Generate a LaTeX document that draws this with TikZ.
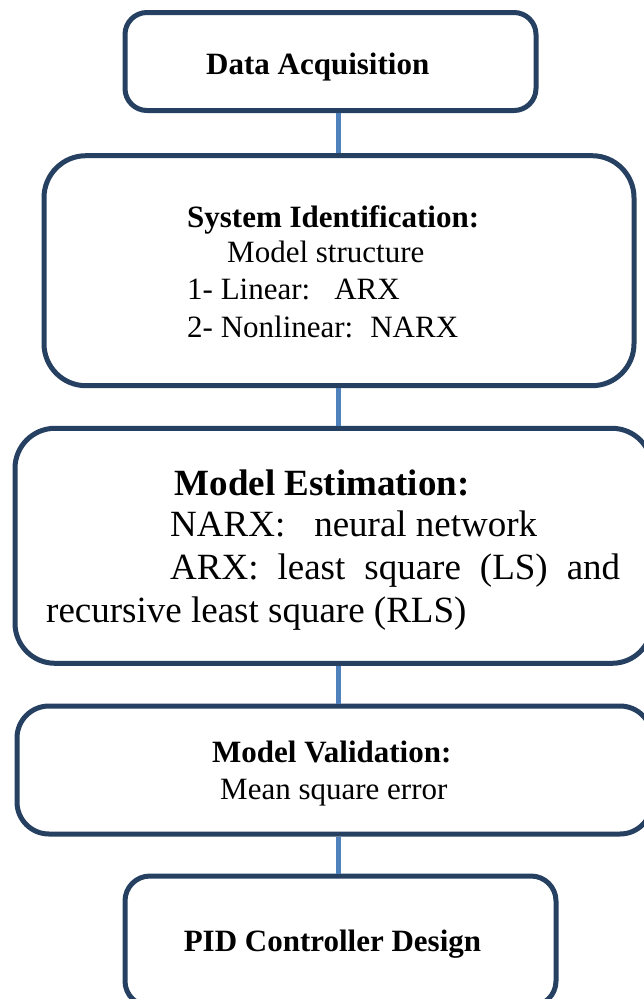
\documentclass[tikz,border=0pt]{standalone}
\usepackage{fontspec}
\setmainfont{Liberation Serif}
\definecolor{boxline}{RGB}{38,64,97}
\definecolor{connblue}{RGB}{79,129,189}
\begin{document}
\begin{tikzpicture}[x=1pt,y=-1pt,
  box/.style={draw=boxline, line width=5pt, rounded corners=#1, inner sep=0pt, fill=white},
  box/.default=22pt,
  txt/.style={anchor=base west, inner sep=0pt, font=\fontsize{31}{37}\selectfont},
  btxt/.style={txt, font=\fontsize{31}{37}\selectfont\bfseries},
  bigtxt/.style={anchor=base west, inner sep=0pt, font=\fontsize{37}{43}\selectfont},
  bigbtxt/.style={bigtxt, font=\fontsize{37}{43}\selectfont\bfseries},
  connector/.style={draw=connblue, line width=5pt}
]
\useasboundingbox (0,0) rectangle (644,999);
\clip (0,0) rectangle (644,999);
% boxes
\node[box=22pt, minimum width=411pt, minimum height=98pt] (b1) at (330.5,61.5) {};
\node[box=42pt, minimum width=590pt, minimum height=230pt] (b2) at (339,270.7) {};
\node[box=40pt, minimum width=637pt, minimum height=235pt] (b3) at (333.5,545.8) {};
\node[box=32pt, minimum width=635pt, minimum height=128pt] (b4) at (334.5,770) {};
\node[box=25pt, minimum width=431pt, minimum height=130pt] (b5) at (340.5,941) {};
% connectors
\coordinate (cx) at (338,0);
\draw[connector] (b1.south -| cx) -- (b2.north -| cx);
\draw[connector] (b2.south -| cx) -- (b3.north -| cx);
\draw[connector] (b3.south -| cx) -- (b4.north -| cx);
\draw[connector] (b4.south -| cx) -- (b5.north -| cx);
% texts
\node[btxt] (t1) at (206,74) {Data Acquisition};
\node[btxt] (t2a) at (187,227) {System Identification:};
\node[txt] (t2b) at (227,262.7) {Model structure};
\node[txt] (t2c) at (187,299.3) {1- Linear:\hspace{24pt}ARX};
\node[txt] (t2d) at (187,337.3) {2- Nonlinear:\hspace{17pt}NARX};
\node[bigbtxt] (t3a) at (174.5,495) {Model Estimation:};
\node[bigtxt] (t3b) at (170,536.7) {NARX:\hspace{29pt}neural network};
\node[bigtxt] (t3c) at (170,579.3) {\makebox[450pt][s]{ARX: least square (LS) and}};
\node[bigtxt] (t3d) at (46,622.3) {recursive least square (RLS)};
\node[btxt] (t4a) at (212,762.3) {Model Validation:};
\node[txt] (t4b) at (220,799.3) {Mean square error};
\node[btxt] (t5) at (183.6,951.7) {PID Controller Design};
\end{tikzpicture}
\end{document}
